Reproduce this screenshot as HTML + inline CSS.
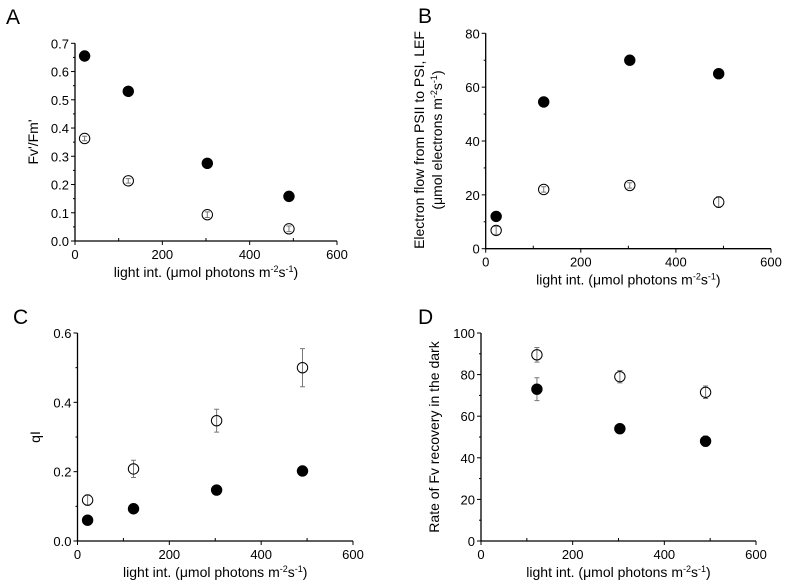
<!DOCTYPE html>
<html><head><meta charset="utf-8"><style>
body{margin:0;background:#fff;overflow:hidden;}
svg{display:block;font-family:"Liberation Sans",sans-serif;}
</style></head><body>
<svg id="fig" width="787" height="583" viewBox="0 0 787 583" xmlns="http://www.w3.org/2000/svg"></svg>
<script>
const xValues = [22, 122, 303, 490];
const xValuesD = [122, 303, 490];
const aFilled = [0.655, 0.53, 0.275, 0.158];
const aOpen = [0.363, 0.213, 0.093, 0.043];
const aOpenErr = [0.008, 0.008, 0.01, 0.01];
const bFilled = [12, 54.5, 70, 65];
const bOpen = [6.8, 22, 23.5, 17.3];
const bOpenErr = [1.5, 1, 1, 2];
const cFilled = [0.06, 0.093, 0.147, 0.202];
const cOpen = [0.118, 0.208, 0.347, 0.5];
const cOpenErr = [0.015, 0.025, 0.033, 0.055];
const dFilled = [73, 54, 48];
const dFilledErr = [5.5, 1.5, 2.5];
const dOpen = [89.5, 79, 71.5];
const dOpenErr = [3.5, 3, 3];
const aYTicks = ['0.0','0.1','0.2','0.3','0.4','0.5','0.6','0.7'];
const bYTicks = ['0','20','40','60','80'];
const cYTicks = ['0.0','0.2','0.4','0.6'];
const dYTicks = ['0','20','40','60','80','100'];
const xTicks = ['0','200','400','600'];

const svg = document.getElementById('fig');
const NS = 'http://www.w3.org/2000/svg';
function mk(tag, attrs, parent){const e=document.createElementNS(NS,tag);for(const k in attrs)e.setAttribute(k,attrs[k]);(parent||svg).appendChild(e);return e;}

function panel(p){
  const g = mk('g',{});
  
  
  const sx = v => p.x0 + (v/600)*(p.x1-p.x0);
  const ymax = parseFloat(p.yTicks[p.yTicks.length-1]);
  const sy = v => p.y0 - (v/ymax)*(p.y0-p.y1);
  const fs = 'font-size:13px';
  const ax = mk('path',{d:`M${p.x0},${p.y1}V${p.y0}H${p.x1}`,stroke:'#000','stroke-width':1.3,fill:'none'},g);
  
  
  const n = p.yTicks.length-1;
  for(let i=0;i<=n;i++){
    const v = parseFloat(p.yTicks[i]); const y = sy(v);
    mk('line',{x1:p.x0-4,x2:p.x0,y1:y,y2:y,stroke:'#000','stroke-width':1},g);
    if(i<n){const ym=sy(v+ymax/n/2);mk('line',{x1:p.x0-2,x2:p.x0,y1:ym,y2:ym,stroke:'#000','stroke-width':1},g);}
    const t = mk('text',{x:p.x0-6,y:y+5,'text-anchor':'end',style:fs},g);
    t.textContent = p.yTicks[i];
    
    
  }
  for(let i=0;i<xTicks.length;i++){
    const v=parseFloat(xTicks[i]); const x=sx(v);
    mk('line',{x1:x,x2:x,y1:p.y0,y2:p.y0+4,stroke:'#000','stroke-width':1},g);
    if(i<xTicks.length-1){const xm=sx(v+100);mk('line',{x1:xm,x2:xm,y1:p.y0,y2:p.y0-3,stroke:'#000','stroke-width':1},g);}
    const t = mk('text',{x:x,y:p.y0+18,'text-anchor':'middle',style:fs},g);
    t.textContent = xTicks[i];
    
    
  }
  const xt = mk('text',{x:(p.x0+p.x1)/2,y:p.y0+36,'text-anchor':'middle',style:'font-size:14px'},g);
  xt.innerHTML = 'light int. (μmol photons m<tspan dy="-5" style="font-size:9px">-2</tspan><tspan dy="5">s</tspan><tspan dy="-5" style="font-size:9px">-1</tspan><tspan dy="5">)</tspan>';
  
  
  p.yTitle.forEach((line,i)=>{
    const yt = mk('text',{x:0,y:0,'text-anchor':'middle',style:'font-size:14px',transform:`translate(${p.ytx+i*18},${p.yty}) rotate(-90)`},g);
    yt.innerHTML = line;
    
    
  });
  const lb = mk('text',{x:p.lx,y:p.ly,style:'font-size:21px'},g);
  lb.textContent = p.id.toUpperCase();
  
  
  function series(xs, ys, errs, filled){
    xs.forEach((xv,i)=>{
      const cx=sx(xv), cy=sy(ys[i]);
      if(errs){const e=errs[i];const a=sy(ys[i]+e),b=sy(ys[i]-e);
        mk('path',{d:`M${cx},${a}V${b}M${cx-2.5},${a}H${cx+2.5}M${cx-2.5},${b}H${cx+2.5}`,stroke:'#777','stroke-width':1,fill:'none'},g);}
      const c = mk('circle',{cx:cx,cy:cy,r:5.2,fill:filled?'#000':'none',stroke:'#000','stroke-width':1},g);
      
      
    });
  }
  series(p.xs, p.open, p.openErr, false);
  series(p.xs, p.filled, p.filledErr, true);
}

panel({id:'a',x0:75,x1:337,y0:241,y1:43.3,yTicks:aYTicks,xs:xValues,filled:aFilled,open:aOpen,openErr:aOpenErr,
  yTitle:["Fv'/Fm'"],ytx:38,yty:142,lx:6,ly:24});
panel({id:'b',x0:485.7,x1:771,y0:248.7,y1:33.3,yTicks:bYTicks,xs:xValues,filled:bFilled,open:bOpen,openErr:bOpenErr,
  yTitle:["Electron flow from PSII to PSI, LEF",'(μmol electrons m<tspan dy="-5" style="font-size:9px">-2</tspan><tspan dy="5">s</tspan><tspan dy="-5" style="font-size:9px">-1</tspan><tspan dy="5">)</tspan>'],ytx:424,yty:140,lx:418,ly:23});
panel({id:'c',x0:77.5,x1:353,y0:541,y1:333,yTicks:cYTicks,xs:xValues,filled:cFilled,open:cOpen,openErr:cOpenErr,
  yTitle:["qI"],ytx:40,yty:437,lx:13,ly:324});
panel({id:'d',x0:481,x1:756,y0:541,y1:333,yTicks:dYTicks,xs:xValuesD,filled:dFilled,filledErr:dFilledErr,open:dOpen,openErr:dOpenErr,
  yTitle:["Rate of Fv recovery in the dark"],ytx:439,yty:437,lx:418,ly:324});
</script>
</body></html>
